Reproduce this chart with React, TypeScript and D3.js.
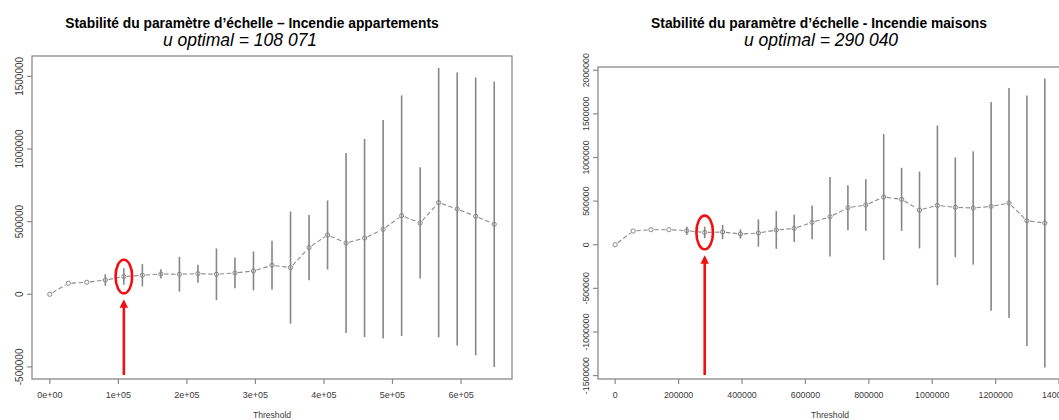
import React from 'react';
import * as d3 from 'd3';

// Incendie appartements: thresholds, scale-parameter estimates and half-widths of the confidence bars
const appartThreshold = [0, 27018, 54036, 81053, 108071, 135089, 162107, 189124, 216142, 243160, 270178, 297196, 324213, 351231, 378249, 405267, 432284, 459302, 486320, 513338, 540356, 567373, 594391, 621409, 648427];
const appartScale = [0, 75700, 82600, 98000, 121800, 130800, 139900, 137600, 142000, 137600, 146600, 160400, 199600, 183600, 321000, 408000, 353000, 387000, 447000, 541000, 491000, 631000, 587000, 537000, 482000];
const appartHalf = [0, 0, 0, 40000, 57000, 77000, 32000, 120000, 62000, 178000, 106000, 134000, 169000, 386000, 224000, 238000, 620000, 682000, 752000, 828000, 383000, 927000, 940000, 956000, 983000];
const appartXTicks = [0, 100000, 200000, 300000, 400000, 500000, 600000];
const appartXTickLabels = ['0e+00', '1e+05', '2e+05', '3e+05', '4e+05', '5e+05', '6e+05'];
const appartYTicks = [-500000, 0, 500000, 1000000, 1500000];
const appartYTickLabels = ['-500000', '0', '500000', '1000000', '1500000'];
const appartOptimal = 108071;

// Incendie maisons
const maisonsThreshold = [0, 56460, 112920, 169380, 225840, 282300, 338760, 395220, 451680, 508140, 564600, 621060, 677520, 733980, 790440, 846900, 903360, 959820, 1016280, 1072740, 1129200, 1185660, 1242120, 1298580, 1355040];
const maisonsScale = [0, 157000, 172000, 172000, 160600, 141000, 145600, 122700, 134000, 168600, 187000, 256000, 321000, 424000, 455000, 547000, 520000, 398000, 451000, 428000, 421000, 439000, 478000, 275000, 249000];
const maisonsHalf = [0, 0, 0, 0, 47500, 66500, 82000, 53500, 156500, 215500, 157000, 192500, 456000, 258000, 294000, 722500, 361500, 439500, 915500, 572000, 649500, 1197000, 1319000, 1435000, 1655500];
const maisonsXTicks = [0, 200000, 400000, 600000, 800000, 1000000, 1200000, 1400000];
const maisonsXTickLabels = ['0', '200000', '400000', '600000', '800000', '1000000', '1200000', '1400000'];
const maisonsYTicks = [-1500000, -1000000, -500000, 0, 500000, 1000000, 1500000, 2000000];
const maisonsYTickLabels = ['-1500000', '-1000000', '-500000', '0', '500000', '1000000', '1500000', '2000000'];
const maisonsOptimal = 290040;

const FONT = "'Liberation Sans', Arial, Helvetica, sans-serif";
const AXIS = '#8a8a8a';
const MARK = '#878787';
const RED = '#f01010';

type Box = { l: number; r: number; t: number; b: number };

// R-style range: data extent padded by 4% on both sides
function padded(lo: number, hi: number): [number, number] {
  const e = (hi - lo) * 0.04;
  return [lo - e, hi + e];
}

interface PanelProps {
  box: Box;
  title: string;
  subtitle: string;
  titleX: number;
  subtitleX: number;
  thresholds: number[];
  values: number[];
  half: number[];
  xTicks: number[];
  xTickLabels: string[];
  yTicks: number[];
  yTickLabels: string[];
  optimal: number;
  tickFont: number;
  yTickFont: number;
}

function Panel(p: PanelProps) {
  const { box } = p;
  const xs = d3.scaleLinear().domain(padded(d3.min(p.thresholds)!, d3.max(p.thresholds)!)).range([box.l, box.r]);
  const lows = p.values.map((v, i) => v - p.half[i]);
  const highs = p.values.map((v, i) => v + p.half[i]);
  const ys = d3.scaleLinear().domain(padded(d3.min(lows)!, d3.max(highs)!)).range([box.b, box.t]);

  const pts = p.thresholds.map((t, i) => ({ x: xs(t), y: ys(p.values[i]), lo: ys(lows[i]), hi: ys(highs[i]), h: p.half[i] }));

  // type "b" segments: leave a small gap around each point
  const gap = 3.2;
  const segs = pts.slice(1).map((q, i) => {
    const a = pts[i];
    const dx = q.x - a.x, dy = q.y - a.y;
    const len = Math.hypot(dx, dy);
    const ux = dx / len, uy = dy / len;
    return { x1: a.x + ux * gap, y1: a.y + uy * gap, x2: q.x - ux * gap, y2: q.y - uy * gap };
  });

  const optIdx = d3.leastIndex(p.thresholds, (t) => Math.abs(t - p.optimal))!;
  const opt = pts[optIdx];
  const rx = 8.3, ry = 16.8;
  const tipY = opt.y + ry + 6;
  const baseY = 375;

  return (
    <g>
      <text x={p.titleX} y={28} textAnchor="middle" fontFamily={FONT} fontWeight="bold" fontSize={13.8} fill="#000">{p.title}</text>
      <text x={p.subtitleX} y={46} textAnchor="middle" fontFamily={FONT} fontStyle="italic" fontSize={17.5} fill="#000">{p.subtitle}</text>

      <rect x={box.l} y={box.t} width={box.r - box.l} height={box.b - box.t} fill="none" stroke={AXIS} strokeWidth={1.3} />

      {p.xTicks.map((t, i) => (
        <g key={'xt' + i}>
          <line x1={xs(t)} x2={xs(t)} y1={box.b} y2={box.b + 5} stroke={AXIS} strokeWidth={1.2} />
          <text x={xs(t)} y={395} textAnchor="middle" dominantBaseline="central" fontFamily={FONT} fontSize={p.tickFont} fill="#3a3a3a">{p.xTickLabels[i]}</text>
        </g>
      ))}
      {p.yTicks.map((t, i) => (
        <g key={'yt' + i}>
          <line x1={box.l - 5} x2={box.l} y1={ys(t)} y2={ys(t)} stroke={AXIS} strokeWidth={1.2} />
          <text transform={`translate(${box.l - 12.5},${ys(t)}) rotate(-90)`} textAnchor="middle" dominantBaseline="central" fontFamily={FONT} fontSize={p.yTickFont} fill="#3a3a3a">{p.yTickLabels[i]}</text>
        </g>
      ))}
      <text x={(box.l + box.r) / 2} y={415} textAnchor="middle" dominantBaseline="central" fontFamily={FONT} fontSize={8.6} fill="#3a3a3a">Threshold</text>

      {segs.map((s, i) => (
        <line key={'s' + i} x1={s.x1} y1={s.y1} x2={s.x2} y2={s.y2} stroke="#8c8c8c" strokeWidth={1.1} strokeDasharray="4.5,2.5" />
      ))}
      {pts.filter((q) => q.h > 0).map((q, i) => (
        <line key={'e' + i} x1={q.x} x2={q.x} y1={q.hi} y2={q.lo} stroke={MARK} strokeWidth={1.6} />
      ))}
      {pts.map((q, i) => (
        <circle key={'p' + i} cx={q.x} cy={q.y} r={2.1} fill="none" stroke={MARK} strokeWidth={1} />
      ))}

      <ellipse cx={opt.x} cy={opt.y} rx={rx} ry={ry} fill="none" stroke={RED} strokeWidth={2.6} />
      <line x1={opt.x} x2={opt.x} y1={baseY} y2={tipY + 7} stroke={RED} strokeWidth={2.6} />
      <path d={`M${opt.x},${tipY} L${opt.x - 4.2},${tipY + 8.5} L${opt.x + 4.2},${tipY + 8.5} Z`} fill={RED} />
    </g>
  );
}

export default function App() {
  return (
    <svg width={1059} height={420} style={{ position: 'absolute', left: 0, top: 0, background: '#fff' }}>
      <rect width={1059} height={420} fill="#fff" />
      <Panel
        box={{ l: 32, r: 512, t: 56, b: 379 }}
        title="Stabilité du paramètre d’échelle – Incendie appartements"
        subtitle="u optimal = 108 071"
        titleX={252}
        subtitleX={240}
        thresholds={appartThreshold}
        values={appartScale}
        half={appartHalf}
        xTicks={appartXTicks}
        xTickLabels={appartXTickLabels}
        yTicks={appartYTicks}
        yTickLabels={appartYTickLabels}
        optimal={appartOptimal}
        tickFont={9}
        yTickFont={10}
      />
      <Panel
        box={{ l: 598, r: 1062, t: 67, b: 379 }}
        title="Stabilité du paramètre d’échelle - Incendie maisons"
        subtitle="u optimal = 290 040"
        titleX={819}
        subtitleX={821}
        thresholds={maisonsThreshold}
        values={maisonsScale}
        half={maisonsHalf}
        xTicks={maisonsXTicks}
        xTickLabels={maisonsXTickLabels}
        yTicks={maisonsYTicks}
        yTickLabels={maisonsYTickLabels}
        optimal={maisonsOptimal}
        tickFont={8.8}
        yTickFont={8.8}
      />
    </svg>
  );
}
